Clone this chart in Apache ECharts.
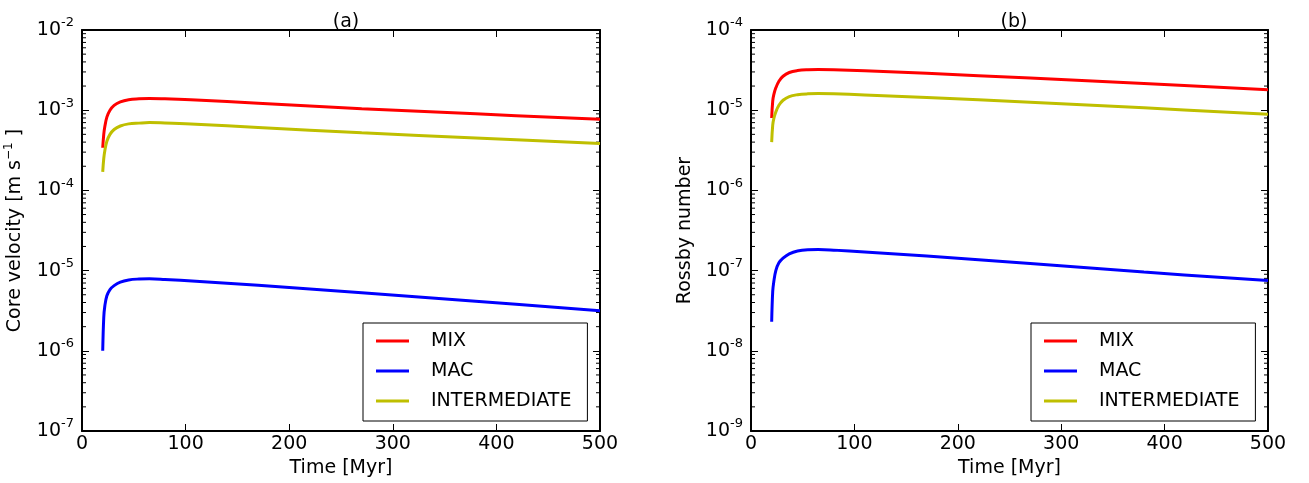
<!DOCTYPE html>
<html>
<head>
<meta charset="utf-8">
<title>Core velocity and Rossby number</title>
<script src="https://cdn.jsdelivr.net/npm/echarts@6/dist/echarts.min.js"></script>
<style>
  html, body { margin: 0; padding: 0; background: #fff; }
  #chart { width: 1309px; height: 483px; }
</style>
</head>
<body>
<div id="chart"></div>
<script>
// time axis shared by every curve [Myr]
var timeMyr = [20, 21, 22, 24, 27, 31, 37, 45, 55, 65, 80, 110, 170, 270, 380, 500];

// (a) core velocity [m s^-1]
var velMix = [3.4e-4, 5.0e-4, 6.2e-4, 8.2e-4, 1.0e-3, 1.15e-3, 1.27e-3, 1.35e-3, 1.385e-3, 1.40e-3, 1.385e-3, 1.34e-3, 1.22e-3, 1.045e-3, 0.9e-3, 0.77e-3];
var velMac = [1.0e-6, 2.6e-6, 3.6e-6, 4.85e-6, 5.8e-6, 6.5e-6, 7.2e-6, 7.65e-6, 7.85e-6, 7.9e-6, 7.75e-6, 7.35e-6, 6.55e-6, 5.3e-6, 4.15e-6, 3.15e-6];
var velInter = [1.7e-4, 2.5e-4, 3.1e-4, 4.1e-4, 5.0e-4, 5.75e-4, 6.35e-4, 6.75e-4, 6.9e-4, 7.0e-4, 6.92e-4, 6.7e-4, 6.1e-4, 5.22e-4, 4.5e-4, 3.85e-4];

// (b) Rossby number
var roMix = [8.0e-6, 1.3e-5, 1.55e-5, 1.9e-5, 2.3e-5, 2.65e-5, 2.95e-5, 3.12e-5, 3.2e-5, 3.22e-5, 3.2e-5, 3.1e-5, 2.88e-5, 2.52e-5, 2.15e-5, 1.8e-5];
var roMac = [2.3e-8, 5.5e-8, 7.2e-8, 1.0e-7, 1.25e-7, 1.43e-7, 1.62e-7, 1.76e-7, 1.82e-7, 1.83e-7, 1.8e-7, 1.71e-7, 1.52e-7, 1.23e-7, 9.6e-8, 7.5e-8];
var roInter = [4.0e-6, 6.5e-6, 7.8e-6, 9.5e-6, 1.15e-5, 1.33e-5, 1.48e-5, 1.56e-5, 1.6e-5, 1.61e-5, 1.6e-5, 1.55e-5, 1.44e-5, 1.26e-5, 1.07e-5, 8.9e-6];

var seriesNames = ['MIX', 'MAC', 'INTERMEDIATE'];
var seriesColors = ['#ff0000', '#0000ff', '#bfbf00'];
var xTicks = { min: 0, max: 500, interval: 100 };
var rangeA = [1e-7, 1e-2];
var rangeB = [1e-9, 1e-4];

var font = 'DejaVu Sans';
var chart = echarts.init(document.getElementById('chart'));

function pairs(vals) {
    return timeMyr.map(function (t, i) { return [t, vals[i]]; });
}

// minor log ticks 2..9 x 10^k
function minorValues(range) {
    var out = [];
    var lo = Math.round(Math.log10(range[0]));
    var hi = Math.round(Math.log10(range[1]));
    for (var k = lo; k < hi; k++) {
        for (var m = 2; m <= 9; m++) out.push([0, m * Math.pow(10, k)]);
    }
    return out;
}

function expLabel(v) {
    var e = Math.round(Math.log10(v));
    return '{b|10}{e|' + e + '}';
}

var expRich = {
    b: { fontSize: 19, fontFamily: font, color: '#000', lineHeight: 27 },
    e: { fontSize: 13, fontFamily: font, color: '#000', lineHeight: 13, verticalAlign: 'top' }
};

function xAxisFor(grid, top) {
    return {
        type: 'value', gridIndex: grid, position: top ? 'top' : 'bottom',
        min: xTicks.min, max: xTicks.max, interval: xTicks.interval,
        name: top ? '' : 'Time [Myr]', nameLocation: 'middle', nameGap: 26,
        nameTextStyle: { fontSize: 19, fontFamily: font, color: '#000' },
        axisLine: { show: true, onZero: false, lineStyle: { color: '#000', width: 2 } },
        axisTick: { show: true, inside: true, length: 7, lineStyle: { color: '#000', width: 1 } },
        axisLabel: { show: !top, margin: 4, fontSize: 19, fontFamily: font, color: '#000' },
        splitLine: { show: false }
    };
}

function yAxisFor(grid, range, name, right, gap) {
    return {
        type: 'log', logBase: 10, gridIndex: grid, position: right ? 'right' : 'left',
        min: range[0], max: range[1], interval: 1,
        name: right ? '' : name, nameLocation: 'middle', nameGap: gap,
        nameTextStyle: {
            fontSize: 19, fontFamily: font, color: '#000',
            rich: {
                n: { fontSize: 19, fontFamily: font, color: '#000', lineHeight: 24 },
                s: { fontSize: 12, fontFamily: font, color: '#000', lineHeight: 12, verticalAlign: 'top' }
            }
        },
        axisLine: { show: true, onZero: false, lineStyle: { color: '#000', width: 2 } },
        axisTick: { show: true, inside: true, length: 7, lineStyle: { color: '#000', width: 1 } },
        axisLabel: { show: !right, margin: 8, formatter: expLabel, rich: expRich },
        splitLine: { show: false }
    };
}

function lineSeries(name, color, vals, grid) {
    return {
        name: name, type: 'line', xAxisIndex: grid * 2, yAxisIndex: grid * 2,
        data: pairs(vals), showSymbol: false, smooth: 0.4,
        lineStyle: { color: color, width: 3 }, itemStyle: { color: color },
        animation: false, z: 3
    };
}

function minorSeries(grid, range) {
    return {
        type: 'custom', xAxisIndex: grid * 2, yAxisIndex: grid * 2,
        data: minorValues(range), silent: true, animation: false, clip: false,
        renderItem: function (params, api) {
            var l = api.coord([xTicks.min, api.value(1)]);
            var r = api.coord([xTicks.max, api.value(1)]);
            var st = { stroke: '#000', lineWidth: 1 };
            return {
                type: 'group', children: [
                    { type: 'line', shape: { x1: l[0], y1: l[1], x2: l[0] + 4, y2: l[1] }, style: st },
                    { type: 'line', shape: { x1: r[0], y1: r[1], x2: r[0] - 4, y2: r[1] }, style: st }
                ]
            };
        }
    };
}

function legendFor(left) {
    return {
        data: seriesNames, orient: 'vertical', left: left, top: 323,
        icon: 'rect', itemWidth: 33, itemHeight: 3, itemGap: 10,
        padding: [8, 16, 10, 13],
        borderColor: '#000', borderWidth: 1, borderRadius: 0,
        backgroundColor: '#fff',
        textStyle: { fontSize: 19, fontFamily: font, color: '#000', lineHeight: 20, padding: [0, 0, 0, 17] },
        selectedMode: false
    };
}

var titleStyle = { fontSize: 19, fontWeight: 'normal', fontFamily: font, color: '#000' };

var option = {
    backgroundColor: '#fff',
    animation: false,
    title: [
        { text: '(a)', left: 341, top: 8, textAlign: 'center', textStyle: titleStyle },
        { text: '(b)', left: 1009, top: 8, textAlign: 'center', textStyle: titleStyle }
    ],
    grid: [
        { left: 82, top: 30, width: 518, height: 401, containLabel: false },
        { left: 751, top: 30, width: 517, height: 401, containLabel: false }
    ],
    xAxis: [xAxisFor(0, false), xAxisFor(0, true), xAxisFor(1, false), xAxisFor(1, true)],
    yAxis: [
        yAxisFor(0, rangeA, '{n|Core velocity [m s}{s|\u22121}{n| ]}', false, 55),
        yAxisFor(0, rangeA, '', true, 0),
        yAxisFor(1, rangeB, 'Rossby number', false, 56),
        yAxisFor(1, rangeB, '', true, 0)
    ],
    legend: [legendFor(363), legendFor(1031)],
    series: [
        lineSeries(seriesNames[0], seriesColors[0], velMix, 0),
        lineSeries(seriesNames[1], seriesColors[1], velMac, 0),
        lineSeries(seriesNames[2], seriesColors[2], velInter, 0),
        lineSeries(seriesNames[0], seriesColors[0], roMix, 1),
        lineSeries(seriesNames[1], seriesColors[1], roMac, 1),
        lineSeries(seriesNames[2], seriesColors[2], roInter, 1),
        minorSeries(0, rangeA),
        minorSeries(1, rangeB)
    ]
};

chart.setOption(option);
</script>
</body>
</html>
